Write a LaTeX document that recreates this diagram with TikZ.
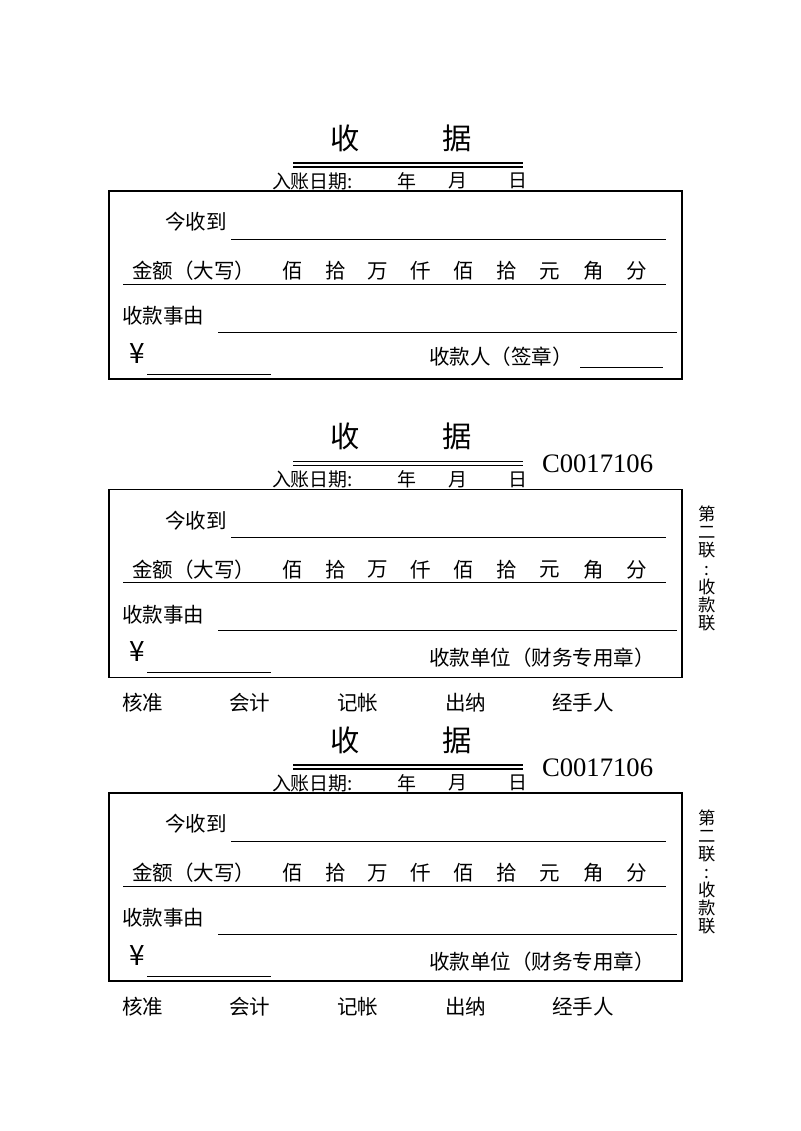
\documentclass[tikz,border=0pt]{standalone}
\usepackage{fontspec}
\setmainfont{Noto Sans CJK SC}
\newfontfamily\latinserif{Liberation Serif}
\begin{document}
\begin{tikzpicture}[x=0.75pt,y=-0.75pt,
  every node/.style={inner sep=0pt, outer sep=0pt},
  body/.style={font=\fontsize{15.4}{16}\selectfont},
  titlefont/.style={font=\fontsize{22}{24}\selectfont},
  datefont/.style={font=\fontsize{14.2}{15}\selectfont},
  yenfont/.style={font=\fontsize{21}{22}\selectfont},
  sidefont/.style={font=\fontsize{13}{13.6}\selectfont, align=center},
  codefont/.style={font=\latinserif\fontsize{20}{21}\selectfont},
  boxline/.style={line width=0.9pt},
  uline/.style={line width=0.75pt},
  dline/.style={line width=0.8pt}]
\useasboundingbox (0,0) rectangle (800,1131);
\fill[white] (0,0) rectangle (800,1131);

\newcommand\rcptcore[2]{%
\begin{scope}[shift={(0,#2)}]
  \node[titlefont] (#1shou) at (345,138) {收};
  \node[titlefont] (#1ju) at (457,138) {据};
  \draw[dline] (293,163) -- (523,163);
  \draw[dline] (293,167) -- (523,167);
  \node[datefont, anchor=west] (#1date) at (272,181) {入账日期:};
  \node[datefont] (#1nian) at (407,181) {年};
  \node[datefont] (#1yue) at (458,181) {月};
  \node[datefont] (#1ri) at (518,181) {日};
  \draw[boxline] (109,191) rectangle (682,379);
  \node[body, anchor=west] (#1jin) at (165,222) {今收到};
  \draw[uline] (231,239) -- (666,239);
  \node[body, anchor=west] (#1je) at (132,271) {金额（大写）};
  \foreach \c/\xx in {佰/293,拾/336,万/378,仟/421,佰/464,拾/507,元/550,角/594,分/637}
    {\node[body] (#1d\xx) at (\xx,271) {\c};}
  \draw[uline] (123,284) -- (666,284);
  \node[body, anchor=west] (#1shi) at (122,316) {收款事由};
  \draw[uline] (218,332) -- (677,332);
  \node[yenfont, anchor=base] (#1yen) at (137,363) {¥};
  \draw[uline] (147,374) -- (271,374);
\end{scope}}

\newcommand\rcptextra[2]{%
\begin{scope}[shift={(0,#2)}]
  \node[codefont, anchor=west] (#1code) at (542,165.5) {C0017106};
  \node[body, anchor=west] (#1unit) at (429,359.5) {收款单位（财务专用章）};
  \node[sidefont] (#1side) at (707,270) {第\\二\\联\\:\\收\\款\\联};
  \node[body, anchor=west] (#1he) at (122,404.5) {核准};
  \node[body, anchor=west] (#1kj) at (229,404.5) {会计};
  \node[body, anchor=west] (#1jz) at (337,404.5) {记帐};
  \node[body, anchor=west] (#1cn) at (445,404.5) {出纳};
  \node[body, anchor=west] (#1js) at (552,404.5) {经手人};
\end{scope}}

\rcptcore{a}{0}
\node[body, anchor=west] (asign) at (429,357) {收款人（签章）};
\draw[uline] (580,367) -- (663,367);

\rcptcore{b}{298.5}
\rcptextra{b}{298.5}

\rcptcore{c}{602}
\rcptextra{c}{602}
\end{tikzpicture}
\end{document}
